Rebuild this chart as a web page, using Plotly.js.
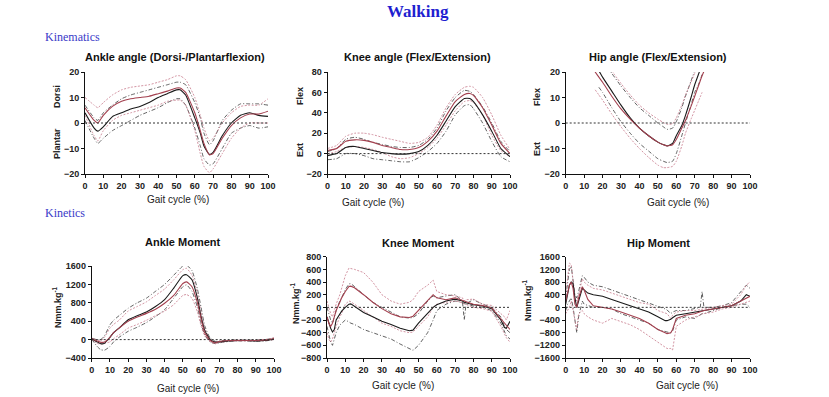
<!DOCTYPE html>
<html>
<head>
<meta charset="utf-8">
<script src="https://cdn.plot.ly/plotly-3.0.1.min.js"></script>
<style>html,body{margin:0;padding:0;background:#fff;}#chart{width:829px;height:397px;}</style>
</head>
<body>
<div id="chart"></div>
<script>
// ---------- DATA ----------
// Ankle angle (Dorsi-/Plantarflexion), degrees
const aaX = [0,5,7,10,15,20,25,30,35,40,45,50,52,55,60,63,65,68,70,75,80,85,90,95,100];
const aaBlackMean = [4,-2,-3.2,-1.5,2.5,4,5.5,6.5,8,10,11.5,13,13,11,2,-4,-9,-12.3,-11.5,-5,0,3,4,3,2.6];
const aaRedMean   = [6,1,0,3,6.5,8.5,9.5,10,10.5,11.5,12.5,13.7,13.7,12,4,-3,-8,-12.5,-12,-6,-1,2,3.5,3.5,4.6];
const aaBlackUp   = [7,2,1,4,7,9.5,11,12,13,14,15,16,16,15,8,2,-4,-8.5,-7,1,5,7.5,7.5,7.5,7];
const aaBlackLo   = [1,-6,-8,-6,-3,-1,1,3,4.5,6,8,9.5,9.5,7,-2,-9,-14,-16.5,-16,-10,-4,-2,-1,-2,-1.5];
const aaRedUp     = [10,7,6,8,11,13,14,14.5,15,16,17,18.5,18.5,17,10,3,-2,-7,-6,0,4,6.5,7,7,9.5];
const aaRedLo     = [3,-5,-7,-3,1,3,4,5,6,7,8.5,9,9,7,-3,-12,-17,-19.5,-18,-12,-6,-2,0,0,0];

// Knee angle (Flex/Extension)
const kaX = [0,5,10,15,20,25,30,35,40,45,50,55,60,65,70,75,78,80,85,90,95,100];
const kaBlackMean = [-2,0,6,7,5,3,1,0,-0.5,0,2,8,18,32,46,54,54,51,38,22,5,-3];
const kaRedMean   = [3,5,12,13.5,13,11,8,6,4,4,6,12,22,37,51,58,59,57,45,28,10,0];
const kaBlackUp   = [2,5,14,16,14,11,9,7,6,6,8,14,25,42,55,62,61,58,46,30,12,2];
const kaBlackLo   = [-6,-5,0,0,-2,-5,-6,-7,-8,-8,-4,2,10,22,38,47,48,44,30,12,-3,-8];
const kaRedUp     = [5,8,17,20,20,18.5,16,14,12,10,11,16,28,45,58,65,66,65,55,38,18,4];
const kaRedLo     = [0,2,6,7,6,4,1,-3,-5,-4,0,6,15,28,42,51,52,50,38,18,3,-3];

// Hip angle (Flex/Extension)
const haX = [15,16,18,20,25,30,35,40,45,50,53,55,58,60,63,65,68,70,72,74,76];
const haBlackMean = [24,23,20.5,18,12.5,7,2,-2,-5,-7.5,-8.5,-9,-8,-5,-1,3,10,15,19,23,null];
const haRedMean   = [21,20,18,16,10.5,5.5,1.5,-2,-5,-7.5,-8.5,-9,-8.5,-6.5,-2,1,6.5,10.5,14.5,18.5,22];
const haBlackUp   = [null,null,null,25,19.5,14.5,10,6,3,0,-1.5,-2.5,-2,0.5,6,10.5,16.5,20.5,null,null,null];
const haBlackLo   = [null,null,14,12,6,0.5,-4,-8,-11,-14,-15,-15.5,-15,-12,-5,0,7,12,15,19,null];
const haRedUp     = [null,null,null,null,20.5,15.5,11,7,4,1.5,0.2,-0.5,-0.3,2,7,11,16,19.5,23,null,null];
const haRedLo     = [null,13,11,9,3.5,-1.5,-6,-10,-13.5,-16.5,-17.5,-17.5,-17,-15,-9,-4,1.5,5,8.5,12,null];

// Ankle moment (Nmm/kg)
const amX = [0,3,5,7,10,12,15,20,25,30,35,40,45,50,52,55,58,60,62,65,68,70,75,80,85,90,95,100];
const amBlackMean = [20,-50,-90,-80,50,150,250,430,520,600,720,870,1120,1390,1410,1300,900,500,200,0,-60,-50,-30,-20,-20,-30,-20,10];
const amRedMean   = [20,-30,-60,-50,50,150,250,400,490,570,660,790,960,1220,1255,1150,800,450,150,-20,-70,-40,-20,-20,-20,-20,-10,20];
const amBlackUp   = [30,0,0,80,320,420,520,680,800,900,1050,1200,1400,1600,1620,1500,1100,700,300,30,-40,-30,-10,-10,-10,-10,0,30];
const amBlackLo   = [10,-150,-220,-230,-150,-50,50,180,270,370,500,650,900,1150,1190,1050,700,350,100,-50,-90,-70,-40,-30,-30,-40,-30,0];
const amRedUp     = [30,-10,-30,50,250,330,420,620,720,820,960,1100,1300,1520,1550,1400,1000,600,250,0,-50,-40,-20,-10,-10,-10,0,40];
const amRedLo     = [10,-80,-100,-80,-50,20,100,250,330,420,520,620,760,960,980,900,600,300,80,-50,-90,-60,-40,-30,-30,-30,-20,0];

// Knee moment (Nmm/kg)
const kmX = [0,1,2,3,4,5,7,8,10,12,13,15,20,25,30,35,40,45,47,50,55,58,60,65,70,72,74,75,76,80,85,90,95,97,98,100];
const kmBlackMean = [-150,-250,-330,-390,-350,-200,-100,-60,0,50,55,20,-80,-150,-220,-270,-330,-370,-360,-250,-100,0,40,100,130,120,100,80,70,40,20,-20,-200,-320,-330,-220];
const kmRedMean   = [-150,-250,-300,-250,-150,-50,80,150,250,330,335,310,200,80,-20,-100,-150,-160,-140,-50,100,200,150,120,150,130,100,90,80,50,30,-10,-180,-250,-290,-350];
const kmBlackUp   = [0,-100,-200,-250,-150,-50,100,150,280,370,375,330,200,80,0,-80,-150,-170,-160,-100,100,180,150,180,200,150,100,-200,60,120,50,0,-150,-300,-350,-400];
const kmBlackLo   = [-300,-450,-550,-600,-500,-400,-280,-250,-200,-230,-250,-270,-350,-400,-450,-500,-580,-650,-680,-600,-400,-200,-50,50,100,90,70,60,50,20,0,-50,-250,-380,-450,-500];
const kmRedUp     = [100,0,-100,-150,-50,50,200,300,500,620,615,600,550,400,200,100,50,80,120,250,350,430,250,200,180,160,150,100,120,130,50,30,-100,-150,-200,-50];
const kmRedLo     = [-400,-500,-550,-500,-400,-300,-150,-100,50,100,90,50,-50,-150,-250,-300,-370,-400,-390,-300,-150,0,50,80,100,90,70,60,50,0,-20,-60,-300,-420,-480,-550];

// Hip moment (Nmm/kg)
const hmX = [0,1,2,3,4,5,6,7,9,10,12,15,20,25,30,35,40,45,50,54,55,57,58,60,65,70,73,74,75,80,85,90,95,98,100];
const hmBlackMean = [100,400,700,800,750,300,0,200,600,550,450,400,350,250,150,50,-50,-150,-300,-420,-420,-380,-330,-250,-200,-150,-120,-110,-100,-50,0,50,200,400,350];
const hmRedMean   = [200,500,700,800,600,100,0,300,650,550,250,50,0,-50,-150,-250,-350,-500,-700,-800,-830,-800,-700,-350,-250,-200,-150,-120,-100,-50,0,50,200,300,350];
const hmBlackUp   = [300,800,1200,1300,900,400,300,500,1000,950,800,700,650,550,450,350,250,150,50,-50,-80,-200,-150,-100,-100,-50,0,500,0,0,50,150,500,700,600];
const hmBlackLo   = [-100,100,200,300,0,-400,-800,-300,200,100,50,0,0,-50,-200,-300,-400,-500,-700,-780,-780,-800,-750,-400,-300,-350,-250,-200,-200,-100,0,50,100,100,0];
const hmRedUp     = [400,1000,1400,1350,800,300,200,400,900,800,700,600,550,450,350,250,150,100,-100,-180,-200,-350,-250,-150,-100,-100,-70,-50,-50,0,50,100,400,700,800];
const hmRedLo     = [-200,-100,0,200,-100,-400,-700,-200,-100,-200,-300,-400,-500,-350,-450,-550,-700,-900,-1100,-1250,-1300,-1300,-1350,-600,-400,-300,-250,-200,-200,-150,-50,0,100,150,200];

// Tick values
const xTicks = [0,10,20,30,40,50,60,70,80,90,100];
const aaYTicks = [-20,-10,0,10,20];
const kaYTicks = [-20,0,20,40,60,80];
const haYTicks = [-20,-10,0,10,20];
const amYTicks = [-400,0,400,800,1200,1600];
const kmYTicks = [-800,-600,-400,-200,0,200,400,600,800];
const hmYTicks = [-1600,-1200,-800,-400,0,400,800,1200,1600];

// ---------- BUILD ----------
const W = 829, H = 397;
const px = v => v / W, py = v => 1 - v / H;

const cBlack = '#1a1a1a', cBlackSD = '#3a3a3a', cRed = '#a3404f', cRedSD = '#c87a8c';
const panels = [
  {ax:'', x:aaX, smooth:true, s:[aaBlackMean,aaRedMean,aaBlackUp,aaBlackLo,aaRedUp,aaRedLo]},
  {ax:'2', x:kaX, smooth:true, s:[kaBlackMean,kaRedMean,kaBlackUp,kaBlackLo,kaRedUp,kaRedLo]},
  {ax:'3', x:haX, smooth:true, s:[haBlackMean,haRedMean,haBlackUp,haBlackLo,haRedUp,haRedLo]},
  {ax:'4', x:amX, smooth:true, s:[amBlackMean,amRedMean,amBlackUp,amBlackLo,amRedUp,amRedLo]},
  {ax:'5', x:kmX, smooth:false, s:[kmBlackMean,kmRedMean,kmBlackUp,kmBlackLo,kmRedUp,kmRedLo]},
  {ax:'6', x:hmX, smooth:false, s:[hmBlackMean,hmRedMean,hmBlackUp,hmBlackLo,hmRedUp,hmRedLo]}
];
const styles = [
  {color:cBlack, width:1.1, dash:'solid'},
  {color:cRed, width:1.1, dash:'solid'},
  {color:cBlackSD, width:0.8, dash:'4px,2px,1px,2px'},
  {color:cBlackSD, width:0.8, dash:'4px,2px,1px,2px'},
  {color:cRedSD, width:0.8, dash:'2px,1.5px'},
  {color:cRedSD, width:0.8, dash:'2px,1.5px'}
];
const data = [];
panels.forEach(p => {
  [2,3,4,5,0,1].forEach(i => {
    const line = Object.assign({}, styles[i]);
    if (p.smooth) { line.shape = 'spline'; line.smoothing = 0.5; } else { line.shape = 'linear'; }
    data.push({type:'scatter', mode:'lines', x:p.x, y:p.s[i], xaxis:'x'+p.ax, yaxis:'y'+p.ax,
      line:line, connectgaps:false, hoverinfo:'skip', showlegend:false});
  });
});

const tickFont = {family:'Liberation Sans, Arial, sans-serif', size:9, color:'#222', weight:'bold'};
function xa(dom, anchor){
  return {domain:dom, anchor:anchor, range:[0,100], tickvals:xTicks, showline:true, linecolor:'#111', linewidth:1,
    ticks:'outside', ticklen:3, tickcolor:'#111', showgrid:false, zeroline:false, tickfont:tickFont, fixedrange:true};
}
function ya(dom, anchor, rng, tv){
  return {domain:dom, anchor:anchor, range:rng, tickvals:tv, showline:true, linecolor:'#111', linewidth:1,
    ticks:'outside', ticklen:3, tickcolor:'#111', showgrid:false, zeroline:false, tickfont:tickFont, fixedrange:true};
}
const topY = [py(174), py(72)];
const botY4 = [py(358), py(266)];
const botY = [py(358), py(256.7)];

const layout = {
  width:W, height:H, margin:{l:0,r:0,t:0,b:0}, paper_bgcolor:'#fff', plot_bgcolor:'#fff', showlegend:false,
  xaxis: xa([px(85),px(268)],'y'),   yaxis: ya(topY,'x',[-20,20],aaYTicks),
  xaxis2:xa([px(327.5),px(510)],'y2'), yaxis2:ya(topY,'x2',[-20,80],kaYTicks),
  xaxis3:xa([px(565.7),px(750)],'y3'), yaxis3:ya(topY,'x3',[-20,20],haYTicks),
  xaxis4:xa([px(91.7),px(274)],'y4'), yaxis4:ya(botY4,'x4',[-400,1600],amYTicks),
  xaxis5:xa([px(327),px(510)],'y5'), yaxis5:ya(botY,'x5',[-800,800],kmYTicks),
  xaxis6:xa([px(565.7),px(750)],'y6'), yaxis6:ya(botY,'x6',[-1600,1600],hmYTicks),
  shapes: ['','2','3','4','5','6'].map(a => ({type:'line', xref:'x'+a, yref:'y'+a, x0:0, x1:100, y0:0, y1:0,
    line:{color:'#333', width:1, dash:'2px,2px'}})),
  annotations: []
};
const ann = layout.annotations;
function txt(t, x, y, font, rot){
  ann.push({text:t, xref:'paper', yref:'paper', x:px(x), y:py(y), xanchor:'center', yanchor:'middle',
    showarrow:false, font:font, textangle:rot||0});
}
const serifBlue = c => ({family:'Liberation Serif, Times New Roman, serif', size:12, color:c});
txt('<b>Walking</b>', 418, 12, {family:'Liberation Serif, Times New Roman, serif', size:17, color:'#1f1fd0'});
ann.push({text:'Kinematics', xref:'paper', yref:'paper', x:px(43), y:py(37), xanchor:'left', yanchor:'middle', showarrow:false, font:serifBlue('#3a3ac8')});
ann.push({text:'Kinetics', xref:'paper', yref:'paper', x:px(43), y:py(213), xanchor:'left', yanchor:'middle', showarrow:false, font:serifBlue('#3a3ac8')});

const titleFont = {family:'Liberation Sans, Arial, sans-serif', size:11, color:'#111', weight:'bold'};
txt('Ankle angle (Dorsi-/Plantarflexion)', 175, 57, titleFont);
txt('Knee angle (Flex/Extension)', 417, 57, titleFont);
txt('Hip angle (Flex/Extension)', 658, 57, titleFont);
txt('Ankle Moment', 183, 242, titleFont);
txt('Knee Moment', 418, 243, titleFont);
txt('Hip Moment', 658, 243, titleFont);

const labFont = {family:'Liberation Sans, Arial, sans-serif', size:9, color:'#222', weight:'bold'};
txt('Dorsi', 57, 97, labFont, -90);
txt('Plantar', 57, 144, labFont, -90);
txt('Flex', 300, 96, labFont, -90);
txt('Ext', 300, 150, labFont, -90);
txt('Flex', 537, 97, labFont, -90);
txt('Ext', 537, 149, labFont, -90);
txt('Nmm.kg<sup>-1</sup>', 57, 307, labFont, -90);
txt('Nmm.kg<sup>-1</sup>', 295, 303, labFont, -90);
txt('Nmm.kg<sup>-1</sup>', 527, 300, labFont, -90);

const gFont = {family:'Liberation Sans, Arial, sans-serif', size:10, color:'#222'};
txt('Gait cycle (%)', 178, 199, gFont);
txt('Gait cycle (%)', 373, 202, gFont);
txt('Gait cycle (%)', 678, 202, gFont);
txt('Gait cycle (%)', 188, 388, gFont);
txt('Gait cycle (%)', 403, 385, gFont);
txt('Gait cycle (%)', 687, 385, gFont);

Plotly.newPlot('chart', data, layout, {staticPlot:true, displayModeBar:false});
</script>
</body>
</html>
